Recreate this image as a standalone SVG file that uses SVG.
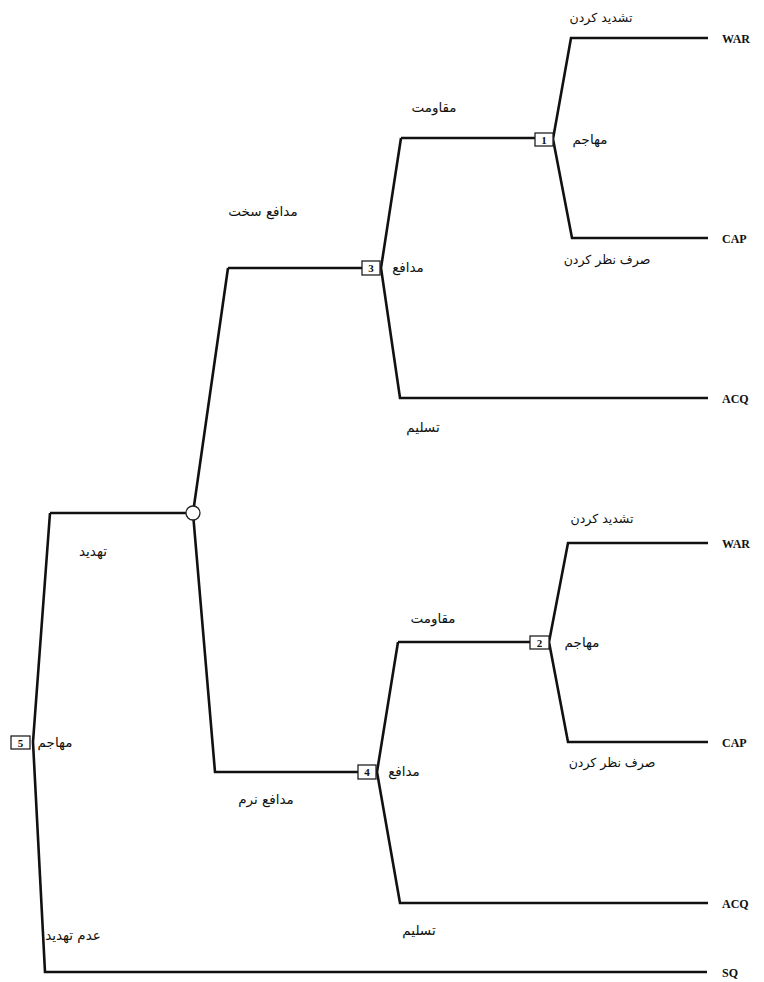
<svg xmlns="http://www.w3.org/2000/svg" width="764" height="982" viewBox="0 0 764 982">
<style>
.e{fill:none;stroke:#111;stroke-width:2.6;stroke-linejoin:miter}
.box{fill:#fff;stroke:#222;stroke-width:1.3}
.num{font-family:"Liberation Serif",serif;font-weight:bold;font-size:11px;fill:#111;text-anchor:middle}
.ar{font-family:"DejaVu Sans","Noto Sans",sans-serif;font-size:13.5px;fill:#111;text-anchor:middle;direction:rtl}
.sm{font-size:12.5px}
.out{font-family:"Liberation Serif",serif;font-weight:bold;font-size:12px;fill:#111}
</style>
<rect width="764" height="982" fill="#fff"/>
<g id="connectors">
<polyline class="e" points="50,513 33,742 45,972 707,972"/>
<polyline class="e" points="50,513 186,513"/>
<polyline class="e" points="228,268 193,513 215,772 358,772"/>
<polyline class="e" points="228,268 362,268"/>
<polyline class="e" points="401,138 381,268 400,398 708,398"/>
<polyline class="e" points="401,138 535,138"/>
<polyline class="e" points="708,38 571,38 553,139 572,238 708,238"/>
<polyline class="e" points="398,642 377,772 400,903 708,903"/>
<polyline class="e" points="398,642 530,642"/>
<polyline class="e" points="708,543 568,543 549,642 568,742 708,742"/>
</g>
<g id="n5">
<rect class="box" x="11" y="736" width="19" height="13"/>
<text class="num" x="20.5" y="746.5">5</text>
<text class="ar" x="55" y="747">مهاجم</text>
</g>
<g id="chance">
<circle cx="193" cy="513" r="7" fill="#fff" stroke="#222" stroke-width="1.3"/>
</g>
<g id="n3">
<rect class="box" x="362" y="261" width="18" height="14"/>
<text class="num" x="371" y="272">3</text>
<text class="ar" x="408" y="272">مدافع</text>
</g>
<g id="n4">
<rect class="box" x="358" y="765" width="18" height="14"/>
<text class="num" x="367" y="776">4</text>
<text class="ar" x="404" y="776">مدافع</text>
</g>
<g id="n1">
<rect class="box" x="535" y="133" width="18" height="13"/>
<text class="num" x="544" y="143.5">1</text>
<text class="ar" x="590" y="144">مهاجم</text>
</g>
<g id="n2">
<rect class="box" x="530" y="636" width="19" height="13"/>
<text class="num" x="539.5" y="646.5">2</text>
<text class="ar" x="582" y="647">مهاجم</text>
</g>
<g id="labels">
<text class="ar sm" x="601" y="22">تشدید کردن</text>
<text class="ar sm" x="607" y="264">صرف نظر کردن</text>
<text class="ar" x="434" y="112">مقاومت</text>
<text class="ar" x="263" y="216">مدافع سخت</text>
<text class="ar" x="423" y="432">تسلیم</text>
<text class="ar" x="93" y="556">تهدید</text>
<text class="ar sm" x="602" y="523">تشدید کردن</text>
<text class="ar" x="433" y="623">مقاومت</text>
<text class="ar sm" x="612" y="767">صرف نظر کردن</text>
<text class="ar" x="266" y="804">مدافع نرم</text>
<text class="ar" x="419" y="935">تسلیم</text>
<text class="ar" x="73" y="940">عدم تهدید</text>
</g>
<g id="outcomes">
<text class="out" x="722" y="43">WAR</text>
<text class="out" x="722" y="243">CAP</text>
<text class="out" x="722" y="403">ACQ</text>
<text class="out" x="722" y="548">WAR</text>
<text class="out" x="722" y="747">CAP</text>
<text class="out" x="722" y="908">ACQ</text>
<text class="out" x="722" y="977">SQ</text>
</g>
</svg>
